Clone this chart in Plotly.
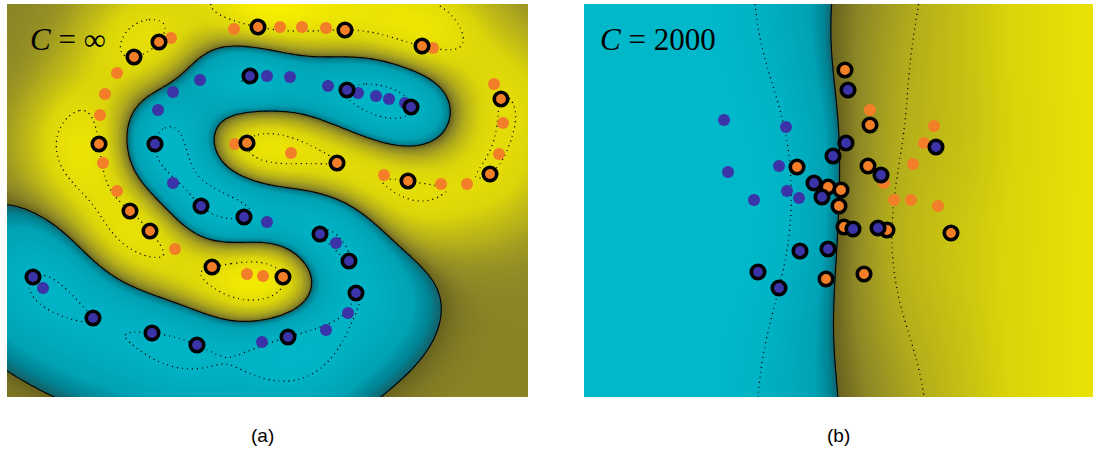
import numpy as np
import plotly.graph_objects as go

# ---------------- panel (a): two interleaved spirals, C = infinity ----------------
a_pos_x = [159, 171, 134, 117, 105, 100, 99, 103, 117, 130, 150, 175, 212, 247, 263, 283,
           234, 258, 280, 302, 326, 345, 422, 433, 494, 501, 503, 499, 490, 467, 441, 408,
           384, 337, 291, 247, 235]
a_pos_y = [42, 38, 57, 73, 94, 115, 144, 163, 191, 211, 231, 249, 267, 274, 276, 277,
           29, 27, 27, 27, 28, 30, 46, 48, 84, 99, 123, 154, 174, 184, 184, 181,
           175, 163, 153, 143, 144]
a_pos_sv = [1, 0, 1, 0, 0, 0, 1, 0, 0, 1, 1, 0, 1, 0, 0, 1,
            0, 1, 0, 0, 0, 1, 1, 0, 0, 1, 0, 0, 1, 0, 0, 1,
            0, 1, 0, 1, 0]

a_neg_x = [250, 267, 290, 200, 173, 158, 155, 173, 201, 244, 267, 320, 336, 349, 356, 348,
           326, 288, 262, 197, 152, 93, 33, 43, 328, 347, 358, 376, 389, 405, 411]
a_neg_y = [76, 76, 77, 80, 92, 110, 144, 183, 206, 217, 222, 234, 243, 261, 293, 313,
           330, 337, 342, 345, 333, 318, 277, 288, 86, 90, 93, 96, 99, 103, 107]
a_neg_sv = [1, 0, 0, 0, 0, 0, 1, 0, 1, 1, 0, 1, 0, 1, 1, 0,
            0, 1, 0, 1, 1, 1, 1, 0, 0, 1, 0, 0, 0, 0, 1]

# ---------------- panel (b): overlapping clouds, C = 2000 ----------------
b_neg_x = [724, 786, 728, 779, 787, 754, 799, 833, 814, 822, 848, 846, 881, 936, 853, 878,
           800, 828, 758, 779]
b_neg_y = [120, 127, 172, 166, 191, 200, 198, 156, 183, 197, 90, 143, 175, 147, 229, 228,
           251, 249, 272, 288]
b_neg_sv = [0, 0, 0, 0, 0, 0, 0, 1, 1, 1, 1, 1, 1, 1, 1, 1,
            1, 1, 1, 1]

b_pos_x = [797, 828, 841, 839, 845, 870, 870, 934, 924, 913, 868, 884, 894, 911, 938, 844,
           887, 951, 826, 864]
b_pos_y = [167, 187, 190, 206, 70, 110, 125, 126, 143, 164, 166, 183, 200, 200, 206, 227,
           230, 233, 279, 274]
b_pos_sv = [1, 1, 1, 1, 1, 0, 1, 0, 0, 0, 1, 0, 0, 0, 0, 1,
            1, 1, 1, 1]

panel_titles = ["<i>C</i> = ∞", "<i>C</i> = 2000"]
panel_tags = ["(a)", "(b)"]

# plotting frames (pixel-like units)
A_X = (7, 528)
B_X = (584, 1093)
Y_SPAN = (4, 397)
W, H = 1095, 449


def rbf(P, Q, s):
    d2 = ((P[:, None, :] - Q[None, :, :]) ** 2).sum(-1)
    return np.exp(-d2 / (2.0 * s * s))


def fit_from_support(X, y, s, ridge=1e-6):
    """Solve the SVM KKT system on a known set of margin support vectors."""
    n = len(y)
    K = rbf(X, X, s)
    M = np.zeros((n + 1, n + 1))
    M[:n, :n] = K + ridge * np.eye(n)
    M[:n, n] = 1.0
    M[n, :n] = 1.0
    rhs = np.concatenate([y, [0.0]])
    sol = np.linalg.solve(M, rhs)
    beta, b = sol[:n], sol[n]
    return lambda G: rbf(G, X, s) @ beta + b


def mixed_kernel(P, Q, s, w):
    # bias + linear + weighted gaussian part
    return 1.0 + P @ Q.T + w * rbf(P, Q, s)


def fit_soft_svm(X, y, s, w, C, epochs=3000):
    """Dual coordinate descent for a kernel SVM (bias folded into the kernel)."""
    n = len(y)
    K = mixed_kernel(X, X, s, w)
    Q = (y[:, None] * y[None, :]) * K
    a = np.zeros(n)
    for _ in range(epochs):
        for i in range(n):
            g = Q[i] @ a - 1.0
            a[i] = min(max(a[i] - g / Q[i, i], 0.0), C)
    coef = a * y
    return lambda G: mixed_kernel(G, X, s, w) @ coef


def grid_values(f, xr, yr, step):
    xs = np.arange(xr[0], xr[1] + step, step, dtype=float)
    ys = np.arange(yr[0], yr[1] + step, step, dtype=float)
    gx, gy = np.meshgrid(xs, ys)
    G = np.column_stack([gx.ravel(), gy.ravel()])
    return xs, ys, f(G).reshape(gy.shape)


# decision function for panel (a)
pa = np.array([[x, y] for x, y, s in zip(a_pos_x, a_pos_y, a_pos_sv) if s], float)
na = np.array([[x, y] for x, y, s in zip(a_neg_x, a_neg_y, a_neg_sv) if s], float)
Xa = np.vstack([pa, na])
ya = np.concatenate([np.ones(len(pa)), -np.ones(len(na))])
fa = fit_from_support(Xa, ya, 44.0)
xa, ya_grid, Za = grid_values(fa, A_X, Y_SPAN, 4)

# decision function for panel (b), in centred and scaled coordinates
CENTER = np.array([840.0, 200.0])
SCALE = 100.0
Xb = np.array(list(zip(b_pos_x, b_pos_y)) + list(zip(b_neg_x, b_neg_y)), float)
yb = np.concatenate([np.ones(len(b_pos_x)), -np.ones(len(b_neg_x))])
fb = fit_soft_svm((Xb - CENTER) / SCALE, yb, 0.7, 0.6, 0.6)
xb, yb_grid, Zb = grid_values(lambda G: fb((G - CENTER) / SCALE), B_X, Y_SPAN, 4)


# colour ramp anchored on decision values; the positive side is stretched per panel
NEG_STOPS = [(-1.5, (0, 184, 202)), (-1.0, (0, 178, 196)), (-0.3, (0, 162, 180)),
             (-0.1, (0, 132, 148)), (-0.003, (20, 96, 104))]
POS_STOPS = [(0.003, (104, 98, 30)), (0.15, (140, 135, 38)), (0.4, (178, 172, 28)),
             (0.8, (218, 212, 10)), (1.5, (248, 238, 0))]


def ramp(stretch):
    stops = NEG_STOPS + [(v * stretch, c) for v, c in POS_STOPS]
    lo, hi = stops[0][0], stops[-1][0]
    cs = [[(v - lo) / (hi - lo), "rgb(%d,%d,%d)" % c] for v, c in stops]
    cs[0][0], cs[-1][0] = 0.0, 1.0
    return lo, hi, cs


BLUE = "rgb(58,52,168)"
ORANGE = "rgb(242,126,40)"

fig = go.Figure()


def add_panel(xs, ys, Z, stretch, xa_name, ya_name, pos, neg):
    lo, hi, cs = ramp(stretch)
    fig.add_trace(go.Heatmap(x=xs, y=ys, z=Z, zmin=lo, zmax=hi, colorscale=cs,
                             zsmooth="best", showscale=False, hoverinfo="skip",
                             xaxis=xa_name, yaxis=ya_name))
    fig.add_trace(go.Contour(x=xs, y=ys, z=Z, showscale=False, hoverinfo="skip",
                             contours=dict(start=-1, end=1, size=2, coloring="none"),
                             line=dict(color="black", width=1.3, dash="1px,4px", smoothing=0.6),
                             xaxis=xa_name, yaxis=ya_name))
    fig.add_trace(go.Contour(x=xs, y=ys, z=Z, showscale=False, hoverinfo="skip",
                             contours=dict(start=0, end=0, size=1, coloring="none"),
                             line=dict(color="black", width=1.1, smoothing=0.6),
                             xaxis=xa_name, yaxis=ya_name))
    for (px, py, sv), col in ((pos, ORANGE), (neg, BLUE)):
        px, py, sv = np.array(px), np.array(py), np.array(sv, bool)
        fig.add_trace(go.Scatter(x=px[~sv], y=py[~sv], mode="markers",
                                 marker=dict(size=12, color=col, line=dict(width=0)),
                                 xaxis=xa_name, yaxis=ya_name, hoverinfo="skip"))
        fig.add_trace(go.Scatter(x=px[sv], y=py[sv], mode="markers",
                                 marker=dict(size=13.5, color=col, line=dict(width=3.6, color="black")),
                                 xaxis=xa_name, yaxis=ya_name, hoverinfo="skip"))


add_panel(xa, ya_grid, Za, 1.0, "x", "y",
          (a_pos_x, a_pos_y, a_pos_sv), (a_neg_x, a_neg_y, a_neg_sv))
add_panel(xb, yb_grid, Zb, 2.4, "x2", "y2",
          (b_pos_x, b_pos_y, b_pos_sv), (b_neg_x, b_neg_y, b_neg_sv))

ydom = [(H - Y_SPAN[1]) / H, (H - Y_SPAN[0]) / H]
axis_common = dict(showgrid=False, zeroline=False, showticklabels=False, ticks="",
                   showline=False)
fig.update_layout(
    width=W, height=H, margin=dict(l=0, r=0, t=0, b=0),
    paper_bgcolor="white", plot_bgcolor="white", showlegend=False,
    xaxis=dict(domain=[A_X[0] / W, A_X[1] / W], range=list(A_X), **axis_common),
    yaxis=dict(domain=ydom, range=[Y_SPAN[1], Y_SPAN[0]], **axis_common),
    xaxis2=dict(domain=[B_X[0] / W, B_X[1] / W], range=list(B_X), **axis_common),
    yaxis2=dict(domain=ydom, range=[Y_SPAN[1], Y_SPAN[0]], anchor="x2", **axis_common),
)

for title, tag, ax, ay, tx, cx in ((panel_titles[0], panel_tags[0], "x", "y", 28, 262),
                                   (panel_titles[1], panel_tags[1], "x2", "y2", 598, 838)):
    fig.add_annotation(text=title, xref=ax, yref=ay, x=tx, y=40, xanchor="left",
                       yanchor="middle", showarrow=False,
                       font=dict(family="Liberation Serif", size=31, color="black"))
    fig.add_annotation(text=tag, xref="paper", yref="paper", x=cx / W, y=(H - 435) / H,
                       xanchor="center", yanchor="middle", showarrow=False,
                       font=dict(family="Liberation Sans", size=19, color="black"))

fig.write_html("out.html")
